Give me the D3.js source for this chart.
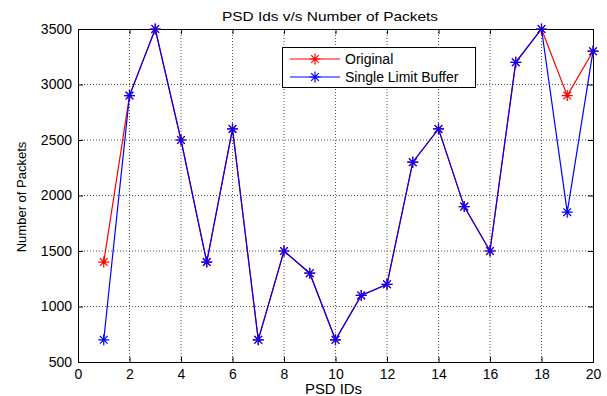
<!DOCTYPE html>
<html>
<head>
<meta charset="utf-8">
<script src="https://cdn.jsdelivr.net/npm/d3@7.9.0/dist/d3.min.js"></script>
<style>
  body { margin: 0; background: #fff; }
  svg { font-family: Arial, "Liberation Sans", sans-serif; }
</style>
</head>
<body>
<svg id="chart" width="607" height="396"></svg>
<script>
// data
const psdIds = [1, 2, 3, 4, 5, 6, 7, 8, 9, 10, 11, 12, 13, 14, 15, 16, 17, 18, 19, 20];
const original = [1400, 2900, 3500, 2500, 1400, 2600, 700, 1500, 1300, 700, 1100, 1200, 2300, 2600, 1900, 1500, 3200, 3500, 2900, 3300];
const singleLimit = [700, 2900, 3500, 2500, 1400, 2600, 700, 1500, 1300, 700, 1100, 1200, 2300, 2600, 1900, 1500, 3200, 3500, 1850, 3300];
const xTicks = [0, 2, 4, 6, 8, 10, 12, 14, 16, 18, 20];
const yTicks = [500, 1000, 1500, 2000, 2500, 3000, 3500];

const svg = d3.select('#chart');
const plotL = 78, plotR = 593, plotT = 29, plotB = 362;

const x = d3.scaleLinear().domain([0, 20]).range([plotL, plotR]);
const y = d3.scaleLinear().domain([500, 3500]).range([plotB, plotT]);

// grid
svg.append('g')
  .selectAll('line')
  .data(xTicks.slice(1, -1))
  .join('line')
  .attr('x1', d => x(d)).attr('x2', d => x(d))
  .attr('y1', plotT).attr('y2', plotB)
  .attr('stroke', '#555').attr('stroke-width', 1)
  .attr('stroke-dasharray', '1,2');

svg.append('g')
  .selectAll('line')
  .data(yTicks.slice(1, -1))
  .join('line')
  .attr('x1', plotL).attr('x2', plotR)
  .attr('y1', d => y(d)).attr('y2', d => y(d))
  .attr('stroke', '#555').attr('stroke-width', 1)
  .attr('stroke-dasharray', '1,2');

// axes (ticks pointing inward, mirrored top/right)
const tickLen = 5;
svg.append('g')
  .attr('transform', `translate(0,${plotB})`)
  .call(d3.axisBottom(x).tickValues(xTicks).tickSize(-tickLen).tickPadding(7).tickFormat(d3.format('d')));
svg.append('g')
  .attr('transform', `translate(0,${plotT})`)
  .call(d3.axisTop(x).tickValues(xTicks).tickSize(-tickLen).tickFormat(''));
svg.append('g')
  .attr('transform', `translate(${plotL},0)`)
  .call(d3.axisLeft(y).tickValues(yTicks).tickSize(-tickLen).tickPadding(6).tickFormat(d3.format('d')));
svg.append('g')
  .attr('transform', `translate(${plotR},0)`)
  .call(d3.axisRight(y).tickValues(yTicks).tickSize(-tickLen).tickFormat(''));

svg.selectAll('.domain').attr('stroke', '#000').attr('stroke-width', 1);
svg.selectAll('.tick line').attr('stroke', '#000');
svg.selectAll('.tick text').attr('font-size', 14).attr('fill', '#000')
  .attr('font-family', 'Arial, "Liberation Sans", sans-serif');

// asterisk marker
function star(cx, cy, r) {
  const d = r * 0.7;
  return `M${cx - r},${cy}H${cx + r}M${cx},${cy - r}V${cy + r}` +
    `M${cx - d},${cy - d}L${cx + d},${cy + d}M${cx - d},${cy + d}L${cx + d},${cy - d}`;
}

const series = [
  { name: 'Original', values: original, color: '#ff0000' },
  { name: 'Single Limit Buffer', values: singleLimit, color: '#0000ff' },
];

const line = d3.line().x((d, i) => x(psdIds[i])).y(d => y(d));

series.forEach(s => {
  svg.append('path')
    .datum(s.values)
    .attr('d', line)
    .attr('fill', 'none')
    .attr('stroke', s.color)
    .attr('stroke-width', 1.2);
  svg.append('g')
    .selectAll('path')
    .data(s.values)
    .join('path')
    .attr('d', (d, i) => star(x(psdIds[i]), y(d), 5.5))
    .attr('stroke', s.color)
    .attr('stroke-width', 1.2)
    .attr('fill', 'none');
});

// legend
const lg = svg.append('g');
lg.append('rect')
  .attr('x', 282.5).attr('y', 47.5).attr('width', 193).attr('height', 40)
  .attr('fill', '#fff').attr('stroke', '#000').attr('stroke-width', 1);
series.forEach((s, i) => {
  const ly = 59 + i * 18;
  lg.append('line')
    .attr('x1', 290).attr('x2', 340).attr('y1', ly).attr('y2', ly)
    .attr('stroke', s.color).attr('stroke-width', 1.2);
  lg.append('path')
    .attr('d', star(315, ly, 5.5))
    .attr('stroke', s.color).attr('stroke-width', 1.2).attr('fill', 'none');
  lg.append('text')
    .attr('x', 345).attr('y', ly + 5)
    .attr('font-size', 14)
    .text(s.name);
});

// titles
svg.append('text')
  .attr('x', 222).attr('y', 21)
  .attr('font-size', 13.5)
  .attr('textLength', 216).attr('lengthAdjust', 'spacingAndGlyphs')
  .text('PSD Ids v/s Number of Packets');
svg.append('text')
  .attr('x', 305).attr('y', 394)
  .attr('font-size', 14)
  .attr('textLength', 57).attr('lengthAdjust', 'spacingAndGlyphs')
  .text('PSD IDs');
svg.append('text')
  .attr('transform', `translate(26,197) rotate(-90)`)
  .attr('text-anchor', 'middle').attr('font-size', 13)
  .text('Number of  Packets');
</script>
</body>
</html>
